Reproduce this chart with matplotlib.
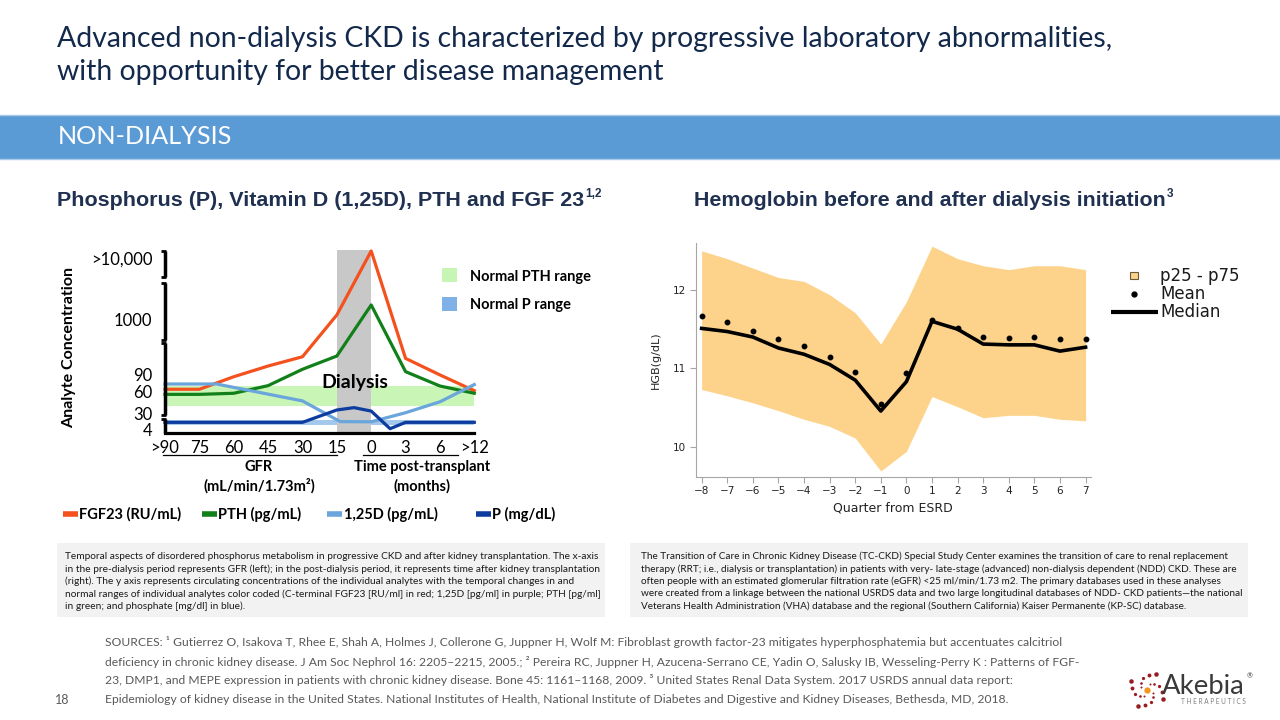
import matplotlib
matplotlib.use('Agg')
import matplotlib.pyplot as plt
import numpy as np
from matplotlib.patches import Rectangle

plt.rcParams['font.family'] = ['Lato', 'DejaVu Sans']

W, H = 1280, 720

# ---- left chart (schematic, y in relative axis units 0-100) ----
gfr_labels = ['>90', '75', '60', '45', '30', '15', '0', '3', '6', '>12']
conc_labels = ['>10,000', '1000', '90', '60', '30', '4']
conc_pos = [96, 62.4, 32.3, 22.6, 10.3, 1.5]

fgf23 = [23.9, 23.9, 30.8, 36.7, 41.8, 64.8, 100, 40.9, 31.8, 23.1]
pth = [21.1, 21.1, 21.7, 25.9, 34.9, 42.2, 70.3, 33.6, 25.7, 21.7]
d125_x = [0, 1.5, 4, 5.1, 6, 7, 8, 9]
d125 = [26.8, 26.8, 17.5, 6.1, 6.0, 11.0, 17.0, 26.5]
p_x = [0, 4, 5, 5.5, 6, 6.55, 7, 9]
p_vals = [5.7, 5.7, 12.5, 13.8, 11.9, 2.2, 5.7, 5.7]

pth_range = (14.9, 25.9)
p_range = (4.0, 7.2)
dialysis = (5, 6)

# ---- right chart: hemoglobin by quarter ----
quarters = list(range(-8, 8))
hgb_p75 = [12.50, 12.40, 12.28, 12.16, 12.11, 11.94, 11.71, 11.31,
           11.85, 12.56, 12.40, 12.31, 12.26, 12.31, 12.31, 12.26]
hgb_p25 = [10.73, 10.65, 10.56, 10.46, 10.35, 10.26, 10.11, 9.69,
           9.94, 10.64, 10.51, 10.37, 10.40, 10.40, 10.35, 10.33]
hgb_median = [11.51, 11.47, 11.40, 11.26, 11.18, 11.05, 10.85, 10.455,
              10.83, 11.60, 11.50, 11.31, 11.30, 11.30, 11.22, 11.27]
hgb_mean = [11.67, 11.59, 11.48, 11.37, 11.28, 11.14, 10.95, 10.54,
            10.94, 11.62, 11.51, 11.40, 11.39, 11.40, 11.37, 11.37]

title_lines = ['Advanced non-dialysis CKD is characterized by progressive laboratory abnormalities,',
               'with opportunity for better disease management']

left_caption = [
    'Temporal aspects of disordered phosphorus metabolism in progressive CKD and after kidney transplantation. The x-axis',
    'in the pre-dialysis period represents GFR (left); in the post-dialysis period, it represents time after kidney transplantation',
    '(right). The y axis represents circulating concentrations of the individual analytes with the temporal changes in and',
    'normal ranges of individual analytes color coded (C-terminal FGF23 [RU/ml] in red; 1,25D [pg/ml] in purple; PTH [pg/ml]',
    'in green; and phosphate [mg/dl] in blue).',
]
right_caption = [
    'The Transition of Care in Chronic Kidney Disease (TC-CKD) Special Study Center examines the transition of care to renal replacement',
    'therapy (RRT; i.e., dialysis or transplantation) in patients with very- late-stage (advanced) non-dialysis dependent (NDD) CKD. These are',
    'often people with an estimated glomerular filtration rate (eGFR) <25 ml/min/1.73 m2. The primary databases used in these analyses',
    'were created from a linkage between the national USRDS data and two large longitudinal databases of NDD- CKD patients\u2014the national',
    'Veterans Health Administration (VHA) database and the regional (Southern California) Kaiser Permanente (KP-SC) database.',
]
sources = [
    'SOURCES: \u00b9 Gutierrez O, Isakova T, Rhee E, Shah A, Holmes J, Collerone G, Juppner H, Wolf M: Fibroblast growth factor-23 mitigates hyperphosphatemia but accentuates calcitriol',
    'deficiency in chronic kidney disease. J Am Soc Nephrol 16: 2205\u20132215, 2005.; \u00b2 Pereira RC, Juppner H, Azucena-Serrano CE, Yadin O, Salusky IB, Wesseling-Perry K : Patterns of FGF-',
    '23, DMP1, and MEPE expression in patients with chronic kidney disease. Bone 45: 1161\u20131168, 2009. \u00b3 United States Renal Data System. 2017 USRDS annual data report:',
    'Epidemiology of kidney disease in the United States. National Institutes of Health, National Institute of Diabetes and Digestive and Kidney Diseases, Bethesda, MD, 2018.',
]

NAVY = '#13294b'
RED = '#f4511e'
GREEN = '#12801a'
LBLUE = '#6aa5dc'
DBLUE = '#0d3c9e'
ORANGE = '#fdd38b'


fig = plt.figure(figsize=(12.8, 7.2), dpi=100)
bg = fig.add_axes([0, 0, 1, 1])
bg.set_xlim(0, W)
bg.set_ylim(H, 0)
bg.axis('off')
bg.set_zorder(0)
renderer = fig.canvas.get_renderer()


def fit(t, width):
    w = t.get_window_extent(renderer).width
    t.set_fontsize(t.get_fontsize() * width / w)
    return t.get_fontsize()


def px_axes(left, top, right, bottom):
    ax = fig.add_axes([left / W, 1 - bottom / H, (right - left) / W, (bottom - top) / H])
    ax.patch.set_alpha(0)
    ax.set_zorder(1)
    return ax


# title
t = bg.text(57, 46.5, title_lines[0], color=NAVY, fontsize=20, va='baseline')
size = fit(t, 1053)
bg.text(57, 80, title_lines[1], color=NAVY, fontsize=size, va='baseline')

# blue band
bg.add_patch(Rectangle((0, 114.5), W, 44.5, color='#5b9bd5', lw=0))
bg.plot([0, W], [114.5, 114.5], color='#a9cbe9', lw=1)
bg.plot([0, W], [159, 159], color='#a9cbe9', lw=1)
t = bg.text(58, 137, 'NON-DIALYSIS', color='white', fontsize=18, va='center', weight='normal')
fit(t, 174)

# subtitles
t = bg.text(57, 201, 'Phosphorus (P), Vitamin D (1,25D), PTH and FGF 23', color='#1f3050',
            fontsize=13.5, weight='bold', family='Liberation Sans', va='center')
fit(t, 524)
x1 = t.get_window_extent(renderer).x1
bg.text(x1 + 1, 194, '1,2', color='#1f3050', fontsize=8.5, weight='bold',
        family='Liberation Sans', va='center')
t = bg.text(694, 201, 'Hemoglobin before and after dialysis initiation', color='#1f3050',
            fontsize=13.5, weight='bold', family='Liberation Sans', va='center')
fit(t, 469)
x1 = t.get_window_extent(renderer).x1
bg.text(x1 + 1, 194, '3', color='#1f3050', fontsize=8.5, weight='bold',
        family='Liberation Sans', va='center')

# ---------------- left chart ----------------
ax1 = px_axes(165, 251, 474.3, 432.7)
ax1.set_xlim(0, 9)
ax1.set_ylim(0, 100)
for s in ['top', 'right', 'left']:
    ax1.spines[s].set_visible(False)
ax1.spines['bottom'].set_linewidth(2.3)
ax1.spines['bottom'].set_color('black')

ax1.axhspan(*pth_range, color='#c9f5b7', lw=0, zorder=1)
ax1.axhspan(*p_range, color='#a3c8ec', lw=0, zorder=1)
ax1.axvspan(*dialysis, ymin=0, ymax=1.005, color='#c8c8c8', lw=0, zorder=2, clip_on=False)

ax1.plot(range(10), fgf23, color=RED, lw=2.3, zorder=3, clip_on=False)
ax1.plot(range(10), pth, color=GREEN, lw=2.3, zorder=3, clip_on=False)
ax1.plot(d125_x, d125, color=LBLUE, lw=2.3, zorder=3, clip_on=False)
ax1.plot(p_x, p_vals, color=DBLUE, lw=2.3, zorder=3, clip_on=False)

ax1.text(5.53, 27.5, 'Dialysis', ha='center', va='center', fontsize=14, weight='bold', zorder=4)

# broken y axis
segments = [(85.5, 100), (51, 82.2), (9.7, 49.2), (0, 7.5)]
for lo, hi in segments:
    ax1.plot([0, 0], [lo, hi], color='black', lw=2.5, clip_on=False, solid_capstyle='butt', zorder=5)
    for yy in (lo, hi):
        if yy > 0:
            ax1.plot([-0.13, 0.03], [yy, yy], color='black', lw=2.0, clip_on=False,
                     solid_capstyle='butt', zorder=5)

ax1.set_xticks(range(10), gfr_labels, fontsize=12)
ax1.tick_params(axis='x', length=0, pad=5)
ax1.set_yticks(conc_pos, conc_labels, fontsize=12)
ax1.tick_params(axis='y', length=0, pad=9)
ax1.set_ylabel('Analyte Concentration', fontsize=11.5, weight='bold')
ax1.yaxis.set_label_coords(-0.289, 0.469)

bg.plot([163, 337], [455, 455], color='black', lw=0.9)
bg.plot([363, 458], [455, 455], color='black', lw=0.9)
bg.text(259, 467, 'GFR', ha='center', va='center', fontsize=10.5, weight='bold')
bg.text(259, 486, '(mL/min/1.73m\u00b2)', ha='center', va='center', fontsize=10.5, weight='bold')
bg.text(422, 467, 'Time post-transplant', ha='center', va='center', fontsize=10.5, weight='bold')
bg.text(422, 486, '(months)', ha='center', va='center', fontsize=10.5, weight='bold')

# range legend
bg.add_patch(Rectangle((442, 268), 15, 14, color='#c6f5b4', lw=0))
bg.text(470, 277, 'Normal PTH range', va='center', fontsize=10.5, weight='bold')
bg.add_patch(Rectangle((442, 296.5), 15, 14, color='#7fb0e6', lw=0))
bg.text(470, 304.5, 'Normal P range', va='center', fontsize=10.5, weight='bold')

# series legend
legend_items = [('FGF23 (RU/mL)', RED, 62.5), ('PTH (pg/mL)', GREEN, 202),
                ('1,25D (pg/mL)', LBLUE, 327), ('P (mg/dL)', DBLUE, 476)]
for label, col, x0 in legend_items:
    bg.plot([x0, x0 + 15], [514, 514], color=col, lw=4, solid_capstyle='butt')
    bg.text(x0 + 16.5, 514, label, va='center', fontsize=10.5, weight='bold')

# ---------------- right chart ----------------
ax2 = px_axes(696, 242.7, 1090.7, 476.7)
ax2.set_xlim(-8.22, 7.2)
ax2.set_ylim(9.617, 12.604)
ax2.fill_between(quarters, hgb_p25, hgb_p75, color=ORANGE, lw=0)
ax2.plot(quarters, hgb_median, color='black', lw=2.6)
ax2.plot(quarters, hgb_mean, 'o', color='black', ms=3.2)
for s in ['top', 'right']:
    ax2.spines[s].set_visible(False)
for s in ['left', 'bottom']:
    ax2.spines[s].set_color('#a6a6a6')
ax2.set_xticks(quarters)
ax2.set_yticks([10, 11, 12])
ax2.tick_params(length=4, color='#a6a6a6', labelsize=7.5, pad=3, labelcolor='#222222')
for lab in ax2.get_xticklabels() + ax2.get_yticklabels():
    lab.set_family('DejaVu Sans')
ax2.set_ylabel('HGB(g/dL)', fontsize=8, family='DejaVu Sans', color='#222222')
ax2.yaxis.set_label_coords(-0.089, 0.499)
ax2.set_xlabel('Quarter from ESRD', fontsize=9, family='DejaVu Sans', color='#222222')
ax2.xaxis.set_label_coords(0.499, -0.108)

# hgb legend
bg.add_patch(Rectangle((1130, 271.7), 8, 7.3, facecolor=ORANGE, edgecolor='#6b5a3a', lw=0.8))
bg.plot([1134], [294], 'o', color='black', ms=3.5)
bg.plot([1110.7, 1158.3], [312.3, 312.3], color='black', lw=3, solid_capstyle='butt')
for yy, label in [(275.7, 'p25 - p75'), (294, 'Mean'), (312.3, 'Median')]:
    bg.text(1160, yy, label, va='center', fontsize=12, family='DejaVu Sans', color='#1a1a1a')

# ---------------- caption boxes ----------------
bg.add_patch(Rectangle((57, 543), 548, 74, color='#f2f2f2', lw=0))
bg.add_patch(Rectangle((630, 543), 618, 74, color='#f2f2f2', lw=0))
line_y = [556.5, 569, 581.5, 594, 606.5]
t = bg.text(65, line_y[1], left_caption[1], fontsize=7, va='center', color='#1a1a1a')
size = fit(t, 535)
for yy, line in zip(line_y, left_caption):
    if line != left_caption[1]:
        bg.text(65, yy, line, fontsize=size, va='center', color='#1a1a1a')
t = bg.text(641, line_y[1], right_caption[1], fontsize=7, va='center', color='#1a1a1a')
size = fit(t, 596)
for yy, line in zip(line_y, right_caption):
    if line != right_caption[1]:
        bg.text(641, yy, line, fontsize=size, va='center', color='#1a1a1a')

# ---------------- sources ----------------
src_y = [642, 661.5, 680.5, 699.5]
t = bg.text(105, src_y[0], sources[0], fontsize=9, va='center', color='#595959')
size = fit(t, 959)
for yy, line in zip(src_y[1:], sources[1:]):
    bg.text(105, yy, line, fontsize=size, va='center', color='#595959')
bg.text(62, 700, '18', ha='center', va='center', fontsize=9, color='#595959')

# ---------------- logo ----------------
cx, cy = 1147, 690
for arm in range(4):
    for j in range(1, 6):
        r = 3.5 + 3.0 * j
        a = arm * np.pi / 2 + j * 0.42
        bg.plot(cx + r * np.cos(a), cy + r * np.sin(a), 'o', color='#9b1c20',
                ms=1.0 + 0.45 * j, mew=0)
bg.plot(cx, cy, 'o', color='#f7941d', ms=4.5, mew=0)
t = bg.text(1162, 686, 'Akebia', fontsize=20, va='center', color='#3a3a3a')
fit(t, 83)
bg.text(1247, 676, '\u00ae', fontsize=5, va='center', color='#3a3a3a')
t = bg.text(1181, 702, 'T H E R A P E U T I C S', fontsize=5, va='center', color='#7f7f7f')
fit(t, 66)

fig.savefig('out.png', dpi=100)
